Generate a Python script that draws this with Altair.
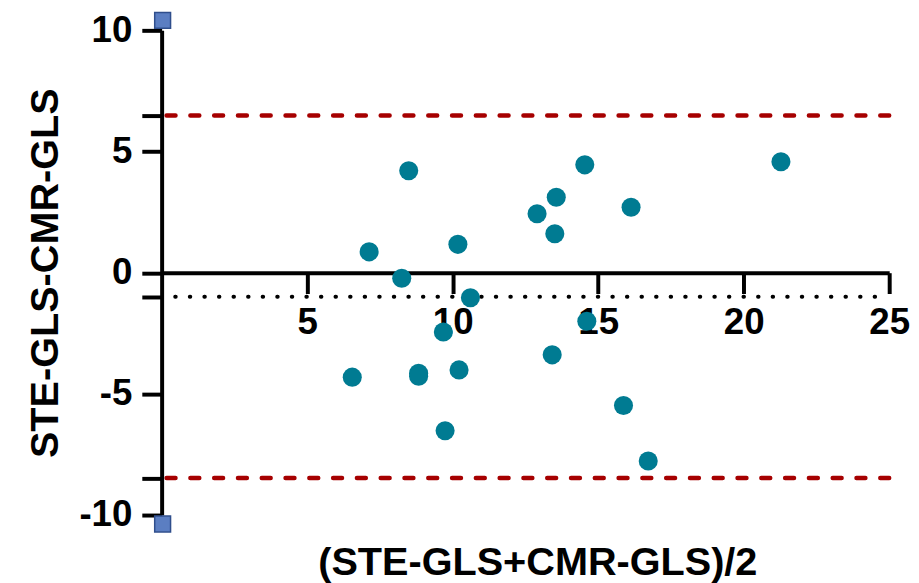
import altair as alt
import pandas as pd

# Bland-Altman data
mean_x = [7.13, 8.49, 8.25, 6.55, 8.83, 8.83, 9.68, 9.74, 10.18, 10.61, 10.22,
          12.90, 13.56, 13.51, 13.42, 14.54, 14.61, 16.13, 15.87, 16.72, 21.28]
diff_y = [0.86, 4.21, -0.23, -4.31, -4.15, -4.27, -2.45, -6.52, 1.17, -1.03, -4.01,
          2.43, 3.11, 1.61, -3.39, 4.45, -2.00, 2.70, -5.48, -7.77, 4.58]

bias = -0.99
upper_loa = 6.49
lower_loa = -8.47

x_ticks = [5, 10, 15, 20, 25]
y_ticks = [10, upper_loa, 5, 0, bias, -5, lower_loa, -10]
end_marks = [10, -10]

FONT = "Liberation Sans"
W, H = 734, 489

pts = pd.DataFrame({"mean": mean_x, "diff": diff_y})
loa = pd.DataFrame({"y": [upper_loa, lower_loa]})
mid = pd.DataFrame({"y": [bias]})
top_sq = pd.DataFrame({"x": [0], "y": [end_marks[0]]})
bot_sq = pd.DataFrame({"x": [0], "y": [end_marks[1]]})

xs = alt.Scale(domain=[0, 25], nice=False, zero=False)
ys = alt.Scale(domain=[-10, 10], nice=False)

x_axis = alt.Axis(
    values=x_ticks, offset=-H / 2, grid=False,
    title="(STE-GLS+CMR-GLS)/2", titleY=292, titleX=379, titleBaseline="middle",
    titleFont=FONT, titleFontSize=40, titleFontWeight="bold", titleColor="black",
    labelFont=FONT, labelFontSize=37, labelFontWeight="bold", labelColor="black",
    labelPadding=11, tickSize=21, tickWidth=4, tickColor="black",
    domainColor="black", domainWidth=4, labelFlush=False, labelOverlap=False,
)
y_axis = alt.Axis(
    values=y_ticks, grid=False,
    labelExpr="abs(datum.value % 5) < 0.01 ? '' + datum.value : ''",
    title="STE-GLS-CMR-GLS", titleX=-117, titleBaseline="middle",
    titleFont=FONT, titleFontSize=40, titleFontWeight="bold", titleColor="black",
    labelFont=FONT, labelFontSize=37, labelFontWeight="bold", labelColor="black",
    labelPadding=10, tickSize=20, tickWidth=4, tickColor="black",
    domainColor="black", domainWidth=4, labelFlush=False, labelOverlap=False,
)

loa_rules = alt.Chart(loa).mark_rule(
    color="#A60000", strokeWidth=4.5, strokeDash=[9, 15], strokeCap="round"
).encode(y=alt.Y("y:Q", scale=ys))

bias_rule = alt.Chart(mid).mark_rule(
    color="black", strokeWidth=4, strokeDash=[0.5, 14.2], strokeCap="round",
    strokeDashOffset=0.5
).encode(y=alt.Y("y:Q", scale=ys))

points = alt.Chart(pts).mark_circle(size=370, color="#007B92", opacity=1).encode(
    x=alt.X("mean:Q", scale=xs, axis=x_axis),
    y=alt.Y("diff:Q", scale=ys, axis=y_axis),
)

sq_style = dict(shape="square", size=256, filled=True, fill="#5B7EC2",
                stroke="#2F4E8C", strokeWidth=1.5, opacity=1, clip=False)
top_mark = alt.Chart(top_sq).mark_point(yOffset=-10, xOffset=1, **sq_style).encode(
    x=alt.X("x:Q", scale=xs), y=alt.Y("y:Q", scale=ys))
bot_mark = alt.Chart(bot_sq).mark_point(yOffset=9, xOffset=1, **sq_style).encode(
    x=alt.X("x:Q", scale=xs), y=alt.Y("y:Q", scale=ys))

chart = alt.layer(loa_rules, bias_rule, points, top_mark, bot_mark).properties(
    width=W, height=H,
    background="white",
    autosize=alt.AutoSizeParams(type="none"),
    padding={"left": 155, "top": 20, "right": 22, "bottom": 66},
).configure_view(strokeWidth=0, stroke=None)

chart.save("out.html", embed_options={"renderer": "svg", "actions": False})
